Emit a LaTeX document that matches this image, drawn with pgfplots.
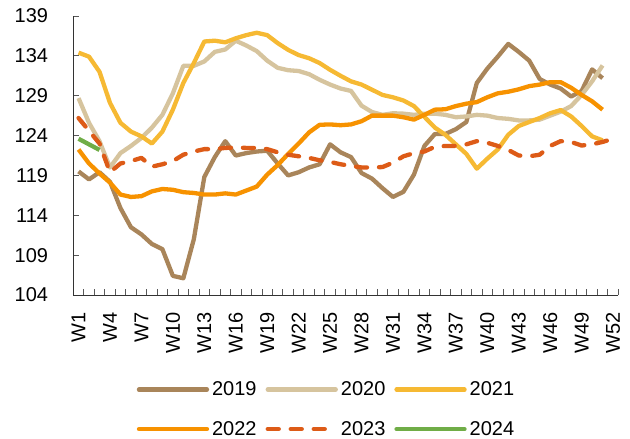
\documentclass[border=0pt]{standalone}
\usepackage{fontspec}
\setmainfont{Liberation Sans}
\usepackage{pgfplots}
\pgfplotsset{compat=1.18}
\usepackage{pgfplotstable}

\definecolor{c19}{RGB}{169,133,90}
\definecolor{c20}{RGB}{214,196,158}
\definecolor{c21}{RGB}{246,185,51}
\definecolor{c22}{RGB}{247,146,0}
\definecolor{c23}{RGB}{221,91,23}
\definecolor{c24}{RGB}{112,173,71}

\pgfplotstableread{
w v
1 119.5
2 118.5
3 119.4
4 118.2
5 114.9
6 112.5
7 111.6
8 110.4
9 109.75
10 106.4
11 106.1
12 111.0
13 118.8
14 121.3
15 123.3
16 121.5
17 121.8
18 122.0
19 122.1
20 120.5
21 119.0
22 119.4
23 120.0
24 120.4
25 122.9
26 121.9
27 121.3
28 119.3
29 118.6
30 117.4
31 116.3
32 116.95
33 119.1
34 122.7
35 124.2
36 124.2
37 124.8
38 125.7
39 130.6
40 132.4
41 133.9
42 135.5
43 134.5
44 133.4
45 131.1
46 130.4
47 129.9
48 128.9
49 129.6
50 132.3
51 131.2
}\tA

\pgfplotstableread{
w v
1 128.7
2 125.6
3 123.3
4 120.0
5 121.8
6 122.7
7 123.7
8 125.0
9 126.6
10 129.3
11 132.75
12 132.75
13 133.3
14 134.5
15 134.8
16 135.9
17 135.3
18 134.6
19 133.4
20 132.5
21 132.2
22 132.1
23 131.7
24 131.0
25 130.4
26 129.9
27 129.6
28 127.75
29 126.95
30 126.6
31 126.8
32 126.75
33 126.6
34 126.75
35 126.75
36 126.6
37 126.3
38 126.4
39 126.6
40 126.5
41 126.2
42 126.1
43 125.9
44 125.9
45 126.0
46 126.5
47 127.0
48 127.7
49 129.1
50 130.8
51 132.8
}\tB

\pgfplotstableread{
w v
1 134.4
2 133.9
3 132.0
4 128.1
5 125.6
6 124.5
7 123.9
8 123.0
9 124.5
10 127.25
11 130.6
12 133.1
13 135.8
14 135.9
15 135.7
16 136.2
17 136.6
18 136.9
19 136.6
20 135.6
21 134.75
22 134.1
23 133.7
24 133.1
25 132.25
26 131.5
27 130.8
28 130.4
29 129.75
30 129.1
31 128.8
32 128.4
33 127.7
34 126.35
35 125.0
36 124.1
37 122.9
38 121.7
39 119.85
40 121.1
41 122.25
42 124.1
43 125.2
44 125.7
45 126.2
46 126.8
47 127.2
48 126.4
49 125.2
50 123.9
51 123.4
}\tC

\pgfplotstableread{
w v
1 122.25
2 120.5
3 119.25
4 118.1
5 116.6
6 116.3
7 116.4
8 117.0
9 117.3
10 117.2
11 116.9
12 116.8
13 116.6
14 116.6
15 116.75
16 116.6
17 117.1
18 117.6
19 119.1
20 120.3
21 121.7
22 123.0
23 124.4
24 125.35
25 125.4
26 125.3
27 125.4
28 125.8
29 126.5
30 126.5
31 126.5
32 126.3
33 126.0
34 126.6
35 127.25
36 127.3
37 127.7
38 128.0
39 128.2
40 128.8
41 129.3
42 129.5
43 129.8
44 130.2
45 130.4
46 130.7
47 130.7
48 130.0
49 129.1
50 128.3
51 127.25
}\tD

\pgfplotstableread{
w v
1 126.2
2 124.6
3 123.0
4 119.4
5 120.5
6 120.8
7 121.2
8 120.1
9 120.4
10 120.8
11 121.6
12 122.0
13 122.3
14 122.3
15 122.45
16 122.5
17 122.45
18 122.45
19 122.3
20 121.9
21 121.6
22 121.4
23 121.2
24 120.9
25 120.7
26 120.4
27 120.2
28 120.0
29 120.0
30 120.05
31 120.6
32 121.4
33 121.8
34 122.0
35 122.6
36 122.7
37 122.7
38 122.9
39 123.3
40 123.1
41 122.7
42 122.2
43 121.5
44 121.4
45 121.6
46 122.7
47 123.3
48 123.2
49 122.75
50 122.9
51 123.2
52 123.6
}\tE

\pgfplotstableread{
w v
1 123.6
2 122.9
3 122.2
}\tF

\begin{document}
\begin{tikzpicture}
\useasboundingbox (-73.3bp,-144bp) rectangle (556.7bp,295bp);
\begin{axis}[
  scale only axis, width=545bp, height=279bp,
  xmin=0.5, xmax=52.5, ymin=104, ymax=139,
  axis x line*=bottom, axis y line*=left,
  axis line style={black!80, line width=1bp},
  tick align=inside,
  xtick={1,4,...,52},
  xticklabels={W1,W4,W7,W10,W13,W16,W19,W22,W25,W28,W31,W34,W37,W40,W43,W46,W49,W52},
  minor xtick={0.5,1.5,...,52.5},
  major x tick style={draw=none},
  minor tick length=6bp, major tick length=6bp,
  every tick/.style={black!65, line width=0.9bp},
  ytick={104,109,...,139},
  /pgf/number format/assume math mode=true,
  /pgf/number format/1000 sep={},
  tick label style={font=\fontsize{20bp}{24bp}\selectfont},
  yticklabel style={anchor=east, inner sep=0pt, xshift=-25bp},
  xticklabel style={yshift=-17bp, rotate=90, anchor=east, inner sep=0pt},
  legend columns=3,
  legend cell align=left,
  legend style={draw=none, fill=none, inner sep=0pt,
    at={(0.4655,-0.300)}, anchor=north,
    font=\fontsize{20bp}{24bp}\selectfont,
    nodes={inner sep=3bp},
    row sep=18bp,
    /tikz/every even column/.append style={column sep=6bp}},
  legend image code/.code={\draw[#1, line cap=round] (0bp,0bp) -- (68bp,0bp);},
  every axis plot/.append style={line width=4.3bp, line join=round},
]
\addplot[c19] table[x=w, y=v] {\tA};
\addlegendentry{2019}
\addplot[c20] table[x=w, y=v] {\tB};
\addlegendentry{2020}
\addplot[c21] table[x=w, y=v] {\tC};
\addlegendentry{2021}
\addplot[c22] table[x=w, y=v] {\tD};
\addlegendentry{2022}
\addplot[c23, line cap=round, dash pattern=on 11bp off 12bp] table[x=w, y=v] {\tE};
\addlegendentry{2023}
\addplot[c24] table[x=w, y=v] {\tF};
\addlegendentry{2024}
\end{axis}
\end{tikzpicture}
\end{document}
